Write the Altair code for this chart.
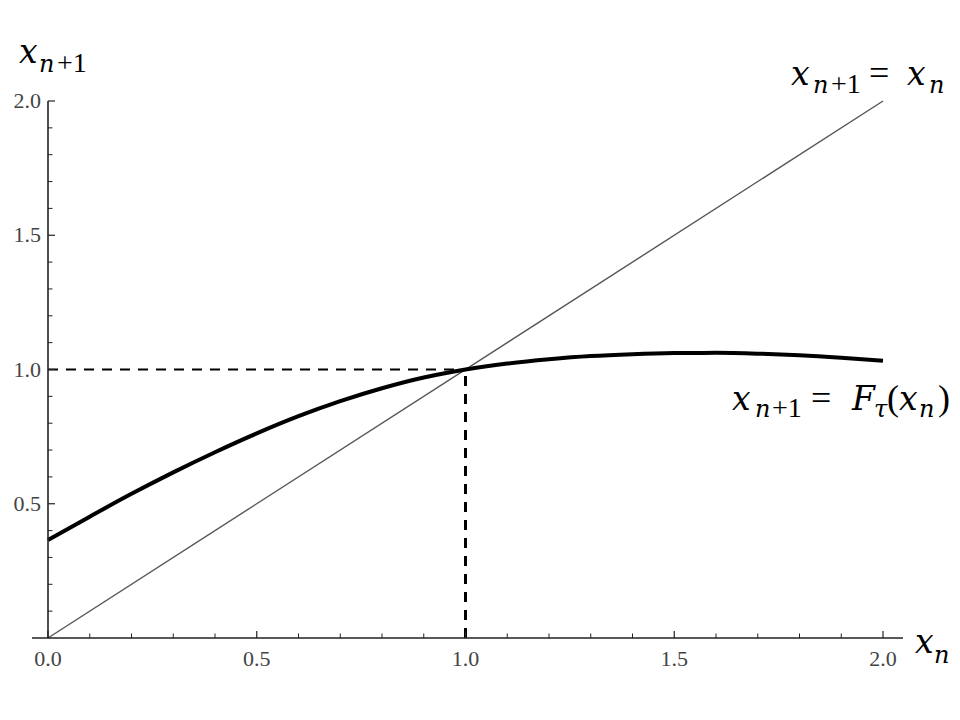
import altair as alt
import pandas as pd

# ---- data ----
curve_x = [0.0, 0.1, 0.2, 0.3, 0.4, 0.5, 0.6, 0.7, 0.8, 0.9, 1.0,
           1.1, 1.2, 1.3, 1.4, 1.5, 1.6, 1.7, 1.8, 1.9, 2.0]
curve_y = [0.365, 0.452, 0.537, 0.617, 0.692, 0.762, 0.826, 0.882, 0.930, 0.970, 1.0,
           1.022, 1.038, 1.050, 1.057, 1.061, 1.062, 1.059, 1.053, 1.044, 1.033]
diag_x = [0.0, 2.0]
diag_y = [0.0, 2.0]
fixed_x = [1.0]
fixed_y = [1.0]
x_major = [0.0, 0.5, 1.0, 1.5, 2.0]
x_minor = [0.1, 0.2, 0.3, 0.4, 0.6, 0.7, 0.8, 0.9, 1.1, 1.2, 1.3, 1.4, 1.6, 1.7, 1.8, 1.9]
y_major = [0.5, 1.0, 1.5, 2.0]
y_minor = [0.1, 0.2, 0.3, 0.4, 0.6, 0.7, 0.8, 0.9, 1.1, 1.2, 1.3, 1.4, 1.6, 1.7, 1.8, 1.9]
x_labels = ["0.0", "0.5", "1.0", "1.5", "2.0"]
y_labels = ["0.5", "1.0", "1.5", "2.0"]

# ---- layout ----
W, H = 835, 537
LEFT, TOP = 48, 101  # page pixel of plot origin
XMAX, YMAX = 2.0, 2.0

def px2x(px):
    return (px - LEFT) / W * XMAX

def py2y(py):
    return (TOP + H - py) / H * YMAX

# annotation pieces: text, page x (left), page baseline y, size, italic
MAIN, SUB = 33, 24
UMAIN, USUB = 36, 28
pieces = [
    ("x", 19, 63, MAIN, True), ("n", 39, 72, SUB, True), ("+1", 57, 72, USUB, False),
    ("x", 791, 85, MAIN, True), ("n", 813, 93, SUB, True), ("+1", 831, 93, USUB, False),
    ("=", 869, 85, UMAIN, False), ("x", 907, 85, MAIN, True), ("n", 929, 93, SUB, True),
    ("x", 732, 410, MAIN, True), ("n", 755, 417, SUB, True), ("+1", 772, 417, USUB, False),
    ("=", 811, 410, UMAIN, False), ("F", 852, 410, MAIN, True), ("τ", 874, 417, SUB, True),
    ("(", 887, 410, UMAIN, False), ("x", 899, 410, MAIN, True), ("n", 919, 417, SUB, True),
    (")", 938, 410, UMAIN, False),
    ("x", 915, 653, MAIN, True), ("n", 934, 663, SUB, True),
]
anno = pd.DataFrame({
    "t": [p[0] for p in pieces],
    "ax": [px2x(p[1]) for p in pieces],
    "ay": [py2y(p[2]) for p in pieces],
    "size": [p[3] for p in pieces],
    "italic": [p[4] for p in pieces],
})

xs = alt.Scale(domain=[0, XMAX], nice=False, zero=False)
ys = alt.Scale(domain=[0, YMAX], nice=False, zero=False)

def X(field):
    return alt.X(field, scale=xs, axis=None)

def Y(field):
    return alt.Y(field, scale=ys, axis=None)

diag = alt.Chart(pd.DataFrame({"x": diag_x, "y": diag_y})).mark_line(
    color="#555555", strokeWidth=1.4
).encode(x=X("x:Q"), y=Y("y:Q"))

curve = alt.Chart(pd.DataFrame({"x": curve_x, "y": curve_y})).mark_line(
    color="black", strokeWidth=4, interpolate="monotone"
).encode(x=X("x:Q"), y=Y("y:Q"))

fp = pd.DataFrame({"fx": fixed_x, "fy": fixed_y, "zero": [0.0]})
hdash = alt.Chart(fp).mark_rule(color="black", strokeWidth=2, strokeDash=[10, 8]).encode(
    x=X("zero:Q"), x2="fx:Q", y=Y("fy:Q"))
vdash = alt.Chart(fp).mark_rule(color="black", strokeWidth=3, strokeDash=[10, 8]).encode(
    x=X("fx:Q"), y=Y("zero:Q"), y2="fy:Q")

xaxis_line = alt.Chart(fp).mark_rule(color="#222222", strokeWidth=1.6).encode(
    x=alt.value(-16), x2=alt.value(W + 20), y=alt.value(H))
yaxis_line = alt.Chart(fp).mark_rule(color="#222222", strokeWidth=1.6).encode(
    x=alt.value(0), y=alt.value(0), y2=alt.value(H))

xt_major = alt.Chart(pd.DataFrame({"v": x_major})).mark_rule(color="#222222", strokeWidth=1.2).encode(
    x=X("v:Q"), y=alt.value(H), y2=alt.value(H - 7))
xt_minor = alt.Chart(pd.DataFrame({"v": x_minor})).mark_rule(color="#222222", strokeWidth=1.0).encode(
    x=X("v:Q"), y=alt.value(H), y2=alt.value(H - 4.5))
yt_major = alt.Chart(pd.DataFrame({"v": y_major})).mark_rule(color="#222222", strokeWidth=1.2).encode(
    y=Y("v:Q"), x=alt.value(0), x2=alt.value(7))
yt_minor = alt.Chart(pd.DataFrame({"v": y_minor})).mark_rule(color="#222222", strokeWidth=1.0).encode(
    y=Y("v:Q"), x=alt.value(0), x2=alt.value(4.5))

xlab = alt.Chart(pd.DataFrame({"v": x_major, "t": x_labels})).mark_text(
    font="Liberation Serif", fontSize=22, color="#444444", align="center", baseline="top"
).encode(x=X("v:Q"), y=alt.value(H + 11), text="t:N")
ylab = alt.Chart(pd.DataFrame({"v": y_major, "t": y_labels})).mark_text(
    font="Liberation Serif", fontSize=22, color="#444444", align="right", baseline="middle"
).encode(y=Y("v:Q"), x=alt.value(-7), text="t:N")

def text_layer(italic):
    return alt.Chart(anno).transform_filter(
        alt.datum.italic if italic else ~alt.datum.italic
    ).mark_text(
        font="DejaVu Serif" if italic else "Liberation Serif",
        fontStyle="italic" if italic else "normal",
        align="left", baseline="alphabetic", color="black"
    ).encode(
        x=X("ax:Q"), y=Y("ay:Q"),
        text="t:N", size=alt.Size("size:Q", scale=None, legend=None),
    )

chart = alt.layer(
    diag, curve, hdash, vdash, xaxis_line, yaxis_line,
    xt_major, xt_minor, yt_major, yt_minor, xlab, ylab,
    text_layer(True), text_layer(False),
).properties(
    width=W, height=H,
    padding={"left": 40, "top": 93, "right": 69, "bottom": 74},
    autosize=alt.AutoSizeParams(type="none"),
    background="white",
).configure_view(stroke=None)

chart.save("out.html", embed_options={"renderer": "svg", "actions": False})
